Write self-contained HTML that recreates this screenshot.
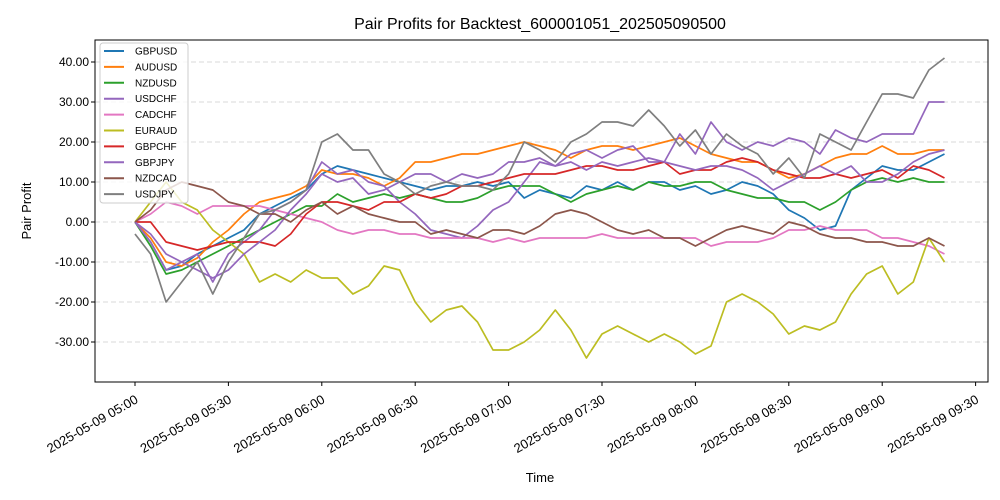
<!DOCTYPE html>
<html><head><meta charset="utf-8"><style>
body{margin:0;background:#fff;}
svg{display:block;font-family:"Liberation Sans",sans-serif;}
</style></head><body>
<svg id="chart" width="1000" height="500">
<rect width="1000" height="500" fill="#fff"/>
<text x="540" y="29" text-anchor="middle" font-size="16">Pair Profits for Backtest_600001051_202505090500</text>
<g id="grid"></g><g id="series"></g><g id="axes"></g><g id="legend"></g>
<text x="540" y="482" text-anchor="middle" font-size="13">Time</text>
<text x="31" y="211" text-anchor="middle" font-size="13" transform="rotate(-90 31 211)">Pair Profit</text>
</svg>
<script>
const names=["GBPUSD","AUDUSD","NZDUSD","USDCHF","CADCHF","EURAUD","GBPCHF","GBPJPY","NZDCAD","USDJPY"];
const colors=["#1f77b4","#ff7f0e","#2ca02c","#9467bd","#e377c2","#bcbd22","#d62728","#9467bd","#8c564b","#7f7f7f"];
const minutes=[0,5,10,15,20,25,30,35,40,45,50,55,60,65,70,75,80,85,90,95,100,105,110,115,120,125,130,135,140,145,150,155,160,165,170,175,180,185,190,195,200,205,210,215,220,225,230,235,240,245,250,255,260];
const gbpusd=[0,-5,-12,-11,-8,-6,-4,-2,2,4,6,8,12,14,13,12,11,10,9,8,9,9,10,9,10,6,8,7,6,9,8,10,8,10,10,8,9,7,8,10,9,7,3,1,-2,-1,8,11,14,13,13,15,17];
const audusd=[0,-4,-10,-11,-9,-5,-2,2,5,6,7,9,13,12,12,11,9,11,15,15,16,17,17,18,19,20,19,18,16,18,19,19,18,19,20,21,19,17,16,15,15,13,11,12,14,16,17,17,19,17,17,18,18];
const nzdusd=[0,-6,-13,-12,-10,-8,-6,-4,-2,0,2,4,4,7,5,6,7,6,7,6,5,5,6,8,9,9,9,7,5,7,8,9,8,10,9,9,10,10,8,7,6,6,5,5,3,5,8,10,11,10,11,10,10];
const usdchf=[0,-5,-12,-10,-8,-15,-8,-5,-2,3,5,8,15,12,13,10,9,5,2,-2,-3,-4,-1,3,5,10,15,14,17,18,16,18,19,15,15,22,17,25,20,18,20,19,21,20,17,23,21,20,22,22,22,30,30];
const cadchf=[0,2,5,4,2,4,4,4,4,3,2,1,0,-2,-3,-2,-2,-3,-3,-4,-4,-4,-4,-5,-4,-5,-4,-4,-4,-4,-3,-4,-4,-4,-4,-4,-4,-6,-5,-5,-5,-4,-2,-2,-1,-2,-2,-2,-4,-4,-5,-6,-8];
const euraud=[0,5,10,5,3,-2,-5,-8,-15,-13,-15,-12,-14,-14,-18,-16,-11,-12,-20,-25,-22,-21,-25,-32,-32,-30,-27,-22,-27,-34,-28,-26,-28,-30,-28,-30,-33,-31,-20,-18,-20,-23,-28,-26,-27,-25,-18,-13,-11,-18,-15,-4,-10];
const gbpchf=[0,0,-5,-6,-7,-6,-5,-5,-5,-6,-3,2,5,5,4,3,5,5,7,6,7,9,9,10,11,12,12,12,13,14,14,13,13,14,15,12,13,13,15,16,15,13,12,11,11,12,11,12,13,11,14,13,11];
const gbpjpy=[0,-3,-8,-10,-12,-14,-12,-8,-5,-2,3,7,12,10,11,7,8,10,12,12,10,12,11,12,15,15,16,14,15,13,15,14,15,16,15,14,13,14,14,13,11,8,10,12,14,12,14,10,10,12,15,17,18];
const nzdcad=[0,3,8,10,9,8,5,4,2,2,0,3,5,2,4,2,1,0,0,-3,-2,-3,-4,-2,-2,-3,-1,2,3,2,0,-2,-3,-2,-4,-4,-6,-4,-2,-1,-2,-3,0,-1,-3,-4,-4,-5,-5,-6,-6,-4,-6];
const usdjpy=[-3,-8,-20,-15,-10,-18,-10,-4,2,3,5,8,20,22,18,18,12,10,7,9,10,9,9,8,12,20,18,15,20,22,25,25,24,28,24,19,23,17,22,19,17,12,16,11,22,20,18,25,32,32,31,38,41];
const yTicks=[-30,-20,-10,0,10,20,30,40];
const xTickMinutes=[0,30,60,90,120,150,180,210,240,270];
const xTickLabels=["2025-05-09 05:00","2025-05-09 05:30","2025-05-09 06:00","2025-05-09 06:30","2025-05-09 07:00","2025-05-09 07:30","2025-05-09 08:00","2025-05-09 08:30","2025-05-09 09:00","2025-05-09 09:30"];
const allSeries=[gbpusd,audusd,nzdusd,usdchf,cadchf,euraud,gbpchf,gbpjpy,nzdcad,usdjpy];
const L=95,R=988,T=40,B=382;
const xs=m=>135+m*(93.4/30);
const ys=v=>222-v*4;
const NS="http://www.w3.org/2000/svg";
function mk(tag,attrs,parent){const e=document.createElementNS(NS,tag);for(const k in attrs)e.setAttribute(k,attrs[k]);parent.appendChild(e);return e;}
const grid=document.getElementById("grid"),axes=document.getElementById("axes"),ser=document.getElementById("series"),leg=document.getElementById("legend");
yTicks.forEach(v=>{
 const g=mk("line",{x1:L,x2:R,y1:ys(v),y2:ys(v),stroke:"#cccccc","stroke-dasharray":"5,3","stroke-width":0.8},grid);
 
 
 mk("line",{x1:L-4,x2:L,y1:ys(v),y2:ys(v),stroke:"#000"},axes);
 const t=mk("text",{x:L-6,y:ys(v)+4,"text-anchor":"end","font-size":12},axes);
 t.textContent=v.toFixed(2);
 
 
});
xTickMinutes.forEach((m,i)=>{
 const x=xs(m);
 mk("line",{x1:x,x2:x,y1:B,y2:B+4,stroke:"#000"},axes);
 const t=mk("text",{x:x+4,y:B+20,"text-anchor":"end","font-size":13,transform:`rotate(-30 ${x+4} ${B+20})`},axes);
 t.textContent=xTickLabels[i];
 
 
});
const frame=mk("rect",{x:L,y:T,width:R-L,height:B-T,fill:"none",stroke:"#000","stroke-width":1},axes);


allSeries.forEach((s,i)=>{
 const d=s.map((v,j)=>(j?"L":"M")+xs(minutes[j]).toFixed(1)+","+ys(v).toFixed(1)).join("");
 const p=mk("path",{d:d,fill:"none",stroke:colors[i],"stroke-width":1.7,"stroke-linejoin":"round"},ser);
 
 
});
const box=mk("rect",{x:100,y:43,width:88,height:160,rx:3,fill:"#fff","fill-opacity":0.8,stroke:"#ccc"},leg);


names.forEach((n,i)=>{
 const y=51+i*15.9;
 mk("line",{x1:104,x2:124,y1:y,y2:y,stroke:colors[i],"stroke-width":2},leg);
 const t=mk("text",{x:135,y:y+3.5,"font-size":10},leg);
 t.textContent=n;
 
 
});
</script>
</body></html>
